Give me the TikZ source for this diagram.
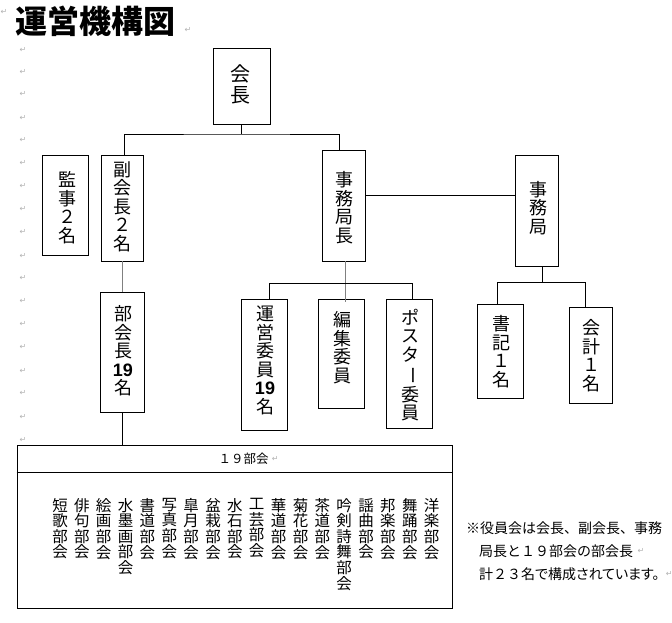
\documentclass[tikz,border=0pt]{standalone}
\usepackage{fontspec}
\newfontfamily\jp{Noto Sans CJK JP}
\newfontfamily\jpp[RawFeature=+palt]{Noto Sans CJK JP}
\newfontfamily\latb{Liberation Sans}
\newfontfamily\dvs{DejaVu Sans}
\newcommand{\nn}{{\latb\bfseries 19}}
\newcommand{\vbar}{\rotatebox[origin=c]{-90}{ー}}
\begin{document}
\begin{tikzpicture}[x=1pt,y=-1pt,
  cell/.style 2 args={draw=black, line width=0.9pt, rectangle, inner sep=0pt, minimum width=#1, minimum height=#2},
  vt/.style={inner sep=0pt, align=center, font=\jp\fontsize{18}{#1}\selectfont},
  vt/.default=18.5,
  col/.style={anchor=north, inner sep=0pt, align=center, font=\jp\fontsize{15.5}{15.6}\selectfont},
  conn/.style={draw=black, line width=0.9pt},
  conng/.style={draw=gray, line width=0.9pt},
  ret/.style={text=gray!60, font=\dvs\fontsize{8}{8}\selectfont, inner sep=0pt},
  notet/.style={anchor=west, inner sep=0pt, font=\jp\fontsize{14}{14}\selectfont}]
\fill[white] (0,0) rectangle (672,623);
\useasboundingbox (0,0) rectangle (672,623);

% title
\node[anchor=west, inner sep=0pt, font=\jp\bfseries\fontsize{32}{32}\selectfont] (title) at (15,21.5) {運営機構図};

% formatting marks
\node[ret] (r0) at (4,12) {↵};
\node[ret] (r1) at (188,30) {↵};
\foreach \yy [count=\k] in {50,72,94,118,140,163,186,209,232,256,278,301,324,347,371,393,417,440}
  \node[ret] (m\k) at (23,\yy) {↵};

% boxes
\node[cell={57}{76}]  (kaicho) at (241.5,86) {};
\node[cell={46}{100}] (kanji)  at (65,205) {};
\node[cell={42}{106}] (fuku)   at (122,208) {};
\node[cell={43}{111}] (jkc)    at (343.5,205.5) {};
\node[cell={43}{111}] (jk)     at (536.5,210.5) {};
\node[cell={44}{120}] (bukai)  at (122,352) {};
\node[cell={46}{131}] (unei)   at (264,364.5) {};
\node[cell={46}{109}] (hensyu) at (341,353.5) {};
\node[cell={46}{129}] (poster) at (409,363.5) {};
\node[cell={46}{94}]  (shoki)  at (500,351) {};
\node[cell={43}{96}]  (kaikei) at (590.5,355) {};

% box texts
\node[inner sep=0pt, align=center, font=\jp\fontsize{20}{21}\selectfont] (kaichoT) at (240,84) {会\\長};
\node[vt] (kanjiT)  at (67,207.5) {監\\事\\２\\名};
\node[vt] (fukuT)   at (122,206.5) {副\\会\\長\\２\\名};
\node[vt] (jkcT)    at (344,207.5) {事\\務\\局\\長};
\node[vt] (jkT)     at (538,208) {事\\務\\局};
\node[vt] (bukaiT)  at (123,351) {部\\会\\長\\\nn\\名};
\node[vt] (uneiT)   at (265,360.5) {運\\営\\委\\員\\\nn\\名};
\node[vt] (hensyuT) at (342,347.5) {編\\集\\委\\員};
\node[vt] (posterT) at (410,365) {ポ\\ス\\タ\\\vbar\\委\\員};
\node[vt] (shokiT)  at (501,351.5) {書\\記\\１\\名};
\node[vt] (kaikeiT) at (591,355.5) {会\\計\\１\\名};

% connectors
\coordinate (bus1) at (241.5,134);
\draw[conn] (kaicho.south) -- (bus1);
\draw[conn] ([xshift=2pt]fuku.north) |- (bus1) -| ([xshift=-4.5pt]jkc.north);
\draw[conn] ([yshift=10.5pt]jkc.east) coordinate (h1) -- (h1 -| jk.west);
\draw[conng] (fuku.south) -- (bukai.north);
\coordinate (bus2) at ([xshift=1.5pt,yshift=-22pt]jkc.south);
\draw[conng] ([xshift=1.5pt]jkc.south) -- ([xshift=1.5pt,yshift=-3pt]jkc.south |- hensyu.north);
\draw[conn] ([xshift=5pt]unei.north) |- (bus2) -| ([xshift=3pt]poster.north);
\coordinate (bus3) at ([xshift=5.5pt,yshift=-16pt]jk.south);
\draw[conn] ([xshift=5.5pt]jk.south) -- (bus3);
\draw[conn] ([xshift=-3pt]shoki.north) |- (bus3) -| ([xshift=-5.5pt]kaikei.north);

% table of 19 sections
\node[cell={435}{163}] (tbl) at (234.5,526.5) {};
\coordinate (hdr) at (0,472);
\draw[conn] (tbl.west |- hdr) -- (tbl.east |- hdr);
\draw[conn] (bukai.south) -- (bukai.south |- tbl.north);
\node[inner sep=0pt, font=\jp\fontsize{12.5}{13}\selectfont] (hdrT) at (243.5,458.5) {１９部会};
\node[ret, anchor=west] (r2) at ([xshift=3pt]hdrT.east) {↵};

\node[col] (c0)  at (60.0,498)  {短\\歌\\部\\会};
\node[col] (c1)  at (81.9,498)  {俳\\句\\部\\会};
\node[col] (c2)  at (103.7,498) {絵\\画\\部\\会};
\node[col] (c3)  at (125.6,498) {水\\墨\\画\\部\\会};
\node[col] (c4)  at (147.4,498) {書\\道\\部\\会};
\node[col] (c5)  at (169.3,498) {写\\真\\部\\会};
\node[col] (c6)  at (191.2,498) {皐\\月\\部\\会};
\node[col] (c7)  at (213.0,498) {盆\\栽\\部\\会};
\node[col] (c8)  at (234.9,498) {水\\石\\部\\会};
\node[col] (c9)  at (256.7,498) {工\\芸\\部\\会};
\node[col] (c10) at (278.6,498) {華\\道\\部\\会};
\node[col] (c11) at (300.5,498) {菊\\花\\部\\会};
\node[col] (c12) at (322.3,498) {茶\\道\\部\\会};
\node[col] (c13) at (344.2,498) {吟\\剣\\詩\\舞\\部\\会};
\node[col] (c14) at (366.0,498) {謡\\曲\\部\\会};
\node[col] (c15) at (387.9,498) {邦\\楽\\部\\会};
\node[col] (c16) at (409.8,498) {舞\\踊\\部\\会};
\node[col] (c17) at (431.6,498) {洋\\楽\\部\\会};

% note
\node[notet] (note1) at (466,528) {※役員会は会長、副会長、事務};
\node[notet] (note2) at (479,551) {局長と１９部会の部会長};
\node[notet] (note3) at (479,574) {計２３{\jpp 名で構成されています。}};
\node[ret, anchor=west] (r3) at ([xshift=4pt]note2.east) {↵};
\node[ret, anchor=west] (r4) at ([xshift=6pt]note3.east) {↵};
\end{tikzpicture}
\end{document}
